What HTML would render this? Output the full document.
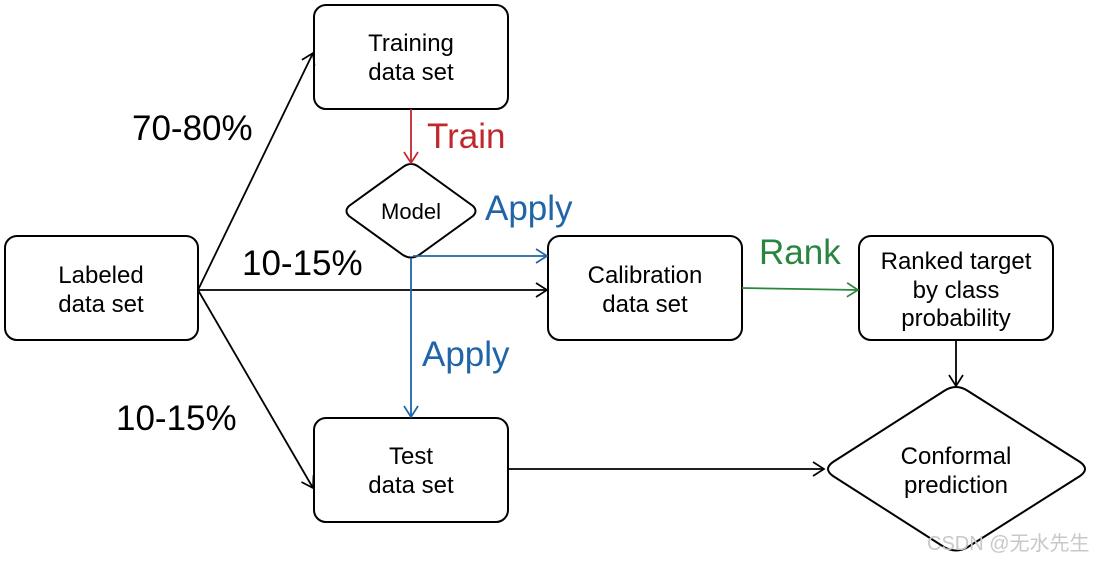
<!DOCTYPE html>
<html><head><meta charset="utf-8"><style>
html,body{margin:0;padding:0;background:#fff;width:1100px;height:562px;overflow:hidden}
text{font-family:"Liberation Sans","Noto Sans CJK SC",sans-serif}
</style></head><body>
<svg width="1100" height="562" viewBox="0 0 1100 562" xmlns="http://www.w3.org/2000/svg">
<defs>
<marker id="ak" markerWidth="16" markerHeight="16" refX="12" refY="8" orient="auto" markerUnits="userSpaceOnUse"><path d="M1,1 L12,8 L1,15" fill="none" stroke="#000" stroke-width="1.7"/></marker>
<marker id="ar" markerWidth="16" markerHeight="16" refX="12" refY="8" orient="auto" markerUnits="userSpaceOnUse"><path d="M1,1 L12,8 L1,15" fill="none" stroke="#c0282d" stroke-width="1.7"/></marker>
<marker id="ab" markerWidth="16" markerHeight="16" refX="12" refY="8" orient="auto" markerUnits="userSpaceOnUse"><path d="M1,1 L12,8 L1,15" fill="none" stroke="#1f65a8" stroke-width="1.7"/></marker>
<marker id="ag" markerWidth="16" markerHeight="16" refX="12" refY="8" orient="auto" markerUnits="userSpaceOnUse"><path d="M1,1 L12,8 L1,15" fill="none" stroke="#2a8540" stroke-width="1.7"/></marker>
</defs>
<g fill="none" stroke="#000" stroke-width="2">
<rect x="314" y="5" width="194" height="104" rx="12"/>
<rect x="5" y="236" width="193" height="104" rx="12"/>
<rect x="548" y="236" width="194" height="104" rx="12"/>
<rect x="859" y="236" width="194" height="104" rx="12"/>
<rect x="314" y="418" width="194" height="104" rx="12"/>
<path d="M411,164 Q415,164 419,167 L473,206 Q478,211 473,216 L419,255 Q411,260 403,255 L349,216 Q344,211 349,206 L403,167 Q407,164 411,164 Z"/>
<path d="M956,387 Q962,387 968,391 L1080,462 Q1090,469 1080,476 L968,547 Q956,554 944,547 L833,476 Q823,469 833,462 L944,391 Q950,387 956,387 Z"/>
</g>
<g fill="none" stroke-width="1.8">
<line x1="198" y1="290" x2="313" y2="53" stroke="#000" marker-end="url(#ak)"/>
<line x1="198" y1="290" x2="547" y2="290" stroke="#000" marker-end="url(#ak)"/>
<line x1="198" y1="290" x2="313" y2="488" stroke="#000" marker-end="url(#ak)"/>
<line x1="411" y1="109" x2="411" y2="163" stroke="#c0282d" marker-end="url(#ar)"/>
<line x1="411" y1="258" x2="411" y2="417" stroke="#1f65a8" marker-end="url(#ab)"/>
<line x1="413" y1="256" x2="547" y2="256" stroke="#1f65a8" marker-end="url(#ab)"/>
<line x1="742" y1="288" x2="858" y2="290" stroke="#2a8540" marker-end="url(#ag)"/>
<line x1="956" y1="340" x2="956" y2="386" stroke="#000" marker-end="url(#ak)"/>
<line x1="508" y1="469" x2="824" y2="469" stroke="#000" marker-end="url(#ak)"/>
</g>
<g font-size="24" fill="#000" text-anchor="middle">
<text x="411" y="51">Training</text><text x="411" y="80">data set</text>
<text x="101" y="283">Labeled</text><text x="101" y="312">data set</text>
<text x="645" y="283">Calibration</text><text x="645" y="312">data set</text>
<text x="956" y="269">Ranked target</text><text x="956" y="298">by class</text><text x="956" y="326">probability</text>
<text x="411" y="464">Test</text><text x="411" y="493">data set</text>
<text x="956" y="464">Conformal</text><text x="956" y="493">prediction</text>
<text x="411" y="219" font-size="22">Model</text>
</g>
<g font-size="35">
<text x="132" y="140" fill="#000">70-80%</text>
<text x="242" y="275" fill="#000">10-15%</text>
<text x="116" y="430" fill="#000">10-15%</text>
<text x="427" y="148" fill="#c0282d">Train</text>
<text x="485" y="220" fill="#1f65a8">Apply</text>
<text x="422" y="366" fill="#1f65a8">Apply</text>
<text x="759" y="264" fill="#2a8540">Rank</text>
</g>
<text x="927" y="550" font-size="20" fill="#c8c8c8">CSDN @无水先生</text>
</svg>
</body></html>
